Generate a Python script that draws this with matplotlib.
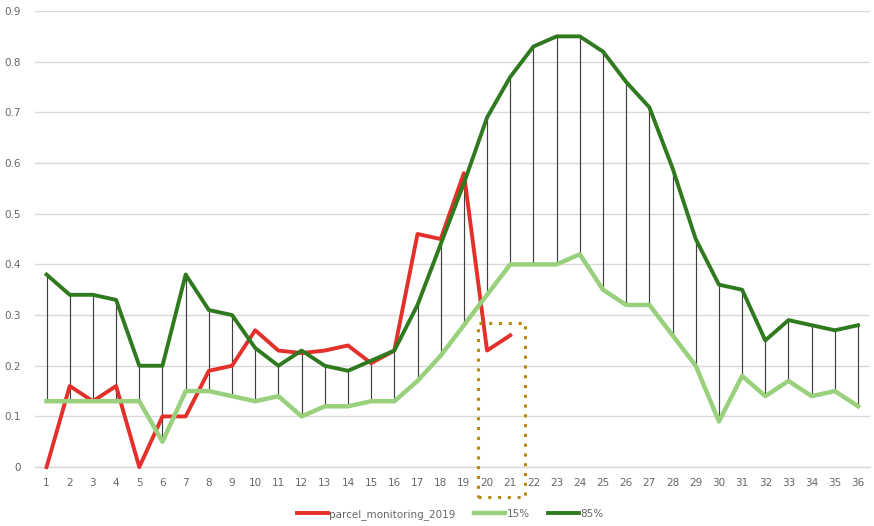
import matplotlib
matplotlib.use("Agg")
import matplotlib.pyplot as plt
from matplotlib.patches import Rectangle

weeks = list(range(1, 37))
p85 = [0.38, 0.34, 0.34, 0.33, 0.20, 0.20, 0.38, 0.31, 0.30, 0.235, 0.20, 0.23,
       0.20, 0.19, 0.21, 0.23, 0.32, 0.44, 0.56, 0.69, 0.77, 0.83, 0.85, 0.85,
       0.82, 0.76, 0.71, 0.59, 0.45, 0.36, 0.35, 0.25, 0.29, 0.28, 0.27, 0.28]
p15 = [0.13, 0.13, 0.13, 0.13, 0.13, 0.05, 0.15, 0.15, 0.14, 0.13, 0.14, 0.10,
       0.12, 0.12, 0.13, 0.13, 0.17, 0.22, 0.28, 0.34, 0.40, 0.40, 0.40, 0.42,
       0.35, 0.32, 0.32, 0.26, 0.20, 0.09, 0.18, 0.14, 0.17, 0.14, 0.15, 0.12]
parcel_weeks = list(range(1, 22))
parcel = [0.0, 0.16, 0.13, 0.16, 0.0, 0.10, 0.10, 0.19, 0.20, 0.27, 0.23, 0.225,
          0.23, 0.24, 0.205, 0.23, 0.46, 0.45, 0.58, 0.23, 0.26]
yticks = [0, 0.1, 0.2, 0.3, 0.4, 0.5, 0.6, 0.7, 0.8, 0.9]
ytick_labels = ["0", "0.1", "0.2", "0.3", "0.4", "0.5", "0.6", "0.7", "0.8", "0.9"]

fig = plt.figure(figsize=(8.74, 5.26), dpi=100)
ax = fig.add_axes([0.040, 0.112, 0.955, 0.867])
ax.set_xlim(0.5, 36.5)
ax.set_ylim(0, 0.9)

for s in ax.spines.values():
    s.set_visible(False)
ax.set_yticks(yticks)
ax.set_yticklabels(ytick_labels)
ax.set_xticks(weeks)
ax.set_xticklabels([str(w) for w in weeks])
ax.tick_params(axis="both", length=0, labelsize=7.5, labelcolor="#666666")
ax.tick_params(axis="x", pad=8)
ax.tick_params(axis="y", pad=10)
ax.yaxis.grid(True, color="#d9d9d9", linewidth=1.0)
ax.axhline(0, color="#d9d9d9", linewidth=1.0, clip_on=False, zorder=0.5)
ax.set_axisbelow(True)

ax.vlines(weeks, p15, p85, colors="#404040", linewidth=0.85, zorder=2)

l1, = ax.plot(parcel_weeks, parcel, color="#e3302a", linewidth=2.8,
              label="parcel_monitoring_2019", zorder=3, clip_on=False)
l2, = ax.plot(weeks, p15, color="#98d07c", linewidth=3.2, label="15%",
              zorder=4, clip_on=False)
l3, = ax.plot(weeks, p85, color="#2f7a1f", linewidth=2.8, label="85%",
              zorder=5, clip_on=False)

rect = Rectangle((19.6, -0.059), 2.03, 0.343, fill=False,
                 edgecolor="#b8860b", linestyle=(0, (1, 2.2)), linewidth=2.2,
                 clip_on=False, zorder=6)
ax.add_patch(rect)

fig.legend(handles=[l1, l2, l3], loc="center", bbox_to_anchor=(0.515, 0.022),
           ncol=3, frameon=False, fontsize=7.5, labelcolor="#666666",
           handlelength=3.0, handletextpad=0.1, columnspacing=1.8)

fig.savefig("out.png", dpi=100)
